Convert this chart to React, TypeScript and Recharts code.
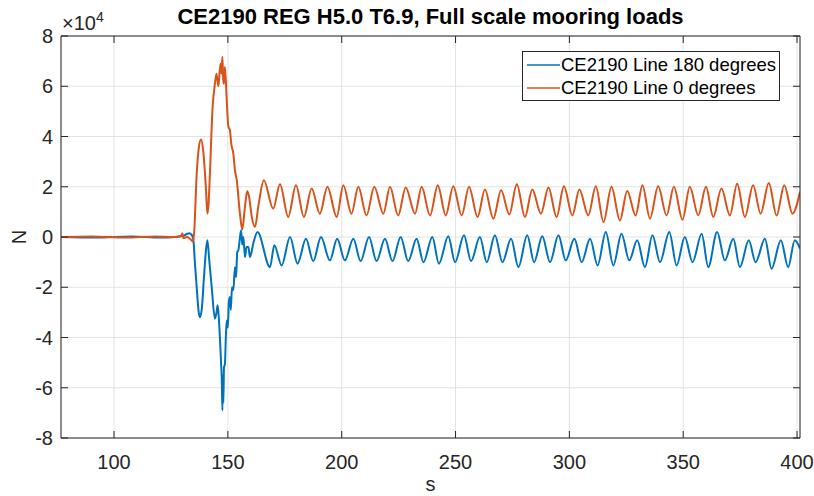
import React from 'react';
import { LineChart, Line, XAxis, YAxis, CartesianGrid, Legend, Label } from 'recharts';

const FONT = '"Liberation Sans", Arial, Helvetica, sans-serif';
const AXIS = '#262626';
const GRID = '#e3e3e3';

const titleText = 'CE2190 REG H5.0 T6.9, Full scale mooring loads';
const xLabel = 's';
const yLabel = 'N';
const seriesNames = ['CE2190 Line 180 degrees', 'CE2190 Line 0 degrees'];
const seriesColors = ['#0072BD', '#D95319'];
const xTicks = [100, 150, 200, 250, 300, 350, 400];
const yTicks = [-8, -6, -4, -2, 0, 2, 4, 6, 8];
const xDomain = [76.7, 401.3];
const yDomain = [-8, 8];

// Line 180 degrees (units of 1e4 N)
const line180Time = [
  76.7, 92, 108, 120, 127, 130.5, 132.0, 133.0, 134.0, 134.8, 135.5, 136.3, 137.2, 137.7, 138.5,
  139.5, 140.4, 141.0, 141.8, 142.9, 144.3, 145.0, 145.5, 146.0, 146.5, 147.0, 147.3, 147.6, 147.8,
  148.0, 148.3, 148.7, 149.1, 149.5, 150.0, 150.4, 150.9, 151.3, 151.8, 152.4, 153.1, 153.6, 154.1,
  154.6, 155.2, 155.8, 156.3, 156.8, 157.5, 158.2, 159.0, 159.7, 161.3, 163.0, 168.5, 170.4, 173.6,
  177.3, 180.6, 184.3, 187.5, 190.9, 194.8, 198.0, 201.4, 205.1, 208.3, 212.0, 215.3, 219.0, 222.3,
  225.9, 229.2, 232.9, 235.9, 239.8, 242.7, 246.8, 249.8, 253.7, 256.8, 260.7, 263.7, 267.3, 270.6,
  274.4, 277.6, 281.5, 284.5, 288.1, 291.5, 295.2, 298.4, 302.2, 305.4, 309.1, 312.4, 316.0, 319.3,
  322.9, 326.3, 329.8, 333.2, 336.5, 339.8, 343.9, 347.1, 350.7, 354.1, 358.1, 361.0, 364.9, 368.3,
  372.0, 374.9, 378.8, 381.8, 385.9, 388.8, 392.9, 396.1, 399.0, 401.3,
];
const line180Value = [
  0.0, -0.02, 0.02, -0.02, 0.0, 0.05, 0.12, 0.15, 0.1, -0.07, -1.0, -2.0, -3.0, -3.19, -2.9,
  -1.6, -0.5, -0.13, -0.9, -2.0, -3.25, -3.0, -2.72, -3.2, -4.0, -5.0, -5.6, -6.9, -5.5,
  -6.6, -5.2, -5.05, -4.0, -3.32, -3.6, -2.6, -2.39, -2.9, -2.0, -2.12, -1.2, -1.6, -0.6,
  -0.53, -0.1, 0.27, -0.3, 0.0, -0.8, -0.4, -0.4, -0.8, -0.2, 0.2, -1.2, -0.33, -1.13,
  0.0, -1.06, -0.07, -0.96, 0.0, -0.93, -0.07, -0.93, -0.07, -0.96, 0.0, -0.96, -0.07, -0.96,
  0.0, -0.96, -0.07, -1.0, 0.0, -1.06, 0.03, -1.0, 0.07, -0.96, 0.0, -1.0, 0.07, -1.0,
  -0.07, -1.2, 0.07, -1.0, 0.03, -1.0, 0.07, -0.93, -0.07, -1.0, -0.07, -1.13, 0.2, -1.13,
  0.13, -0.93, -0.13, -1.2, 0.07, -1.0, 0.2, -1.13, 0.0, -1.0, 0.13, -1.2, 0.2, -0.93,
  -0.07, -1.2, -0.13, -1.0, -0.07, -1.26, -0.13, -1.2, -0.13, -0.46,
];

// Line 0 degrees (units of 1e4 N)
const line0Time = [
  76.7, 90, 105, 118, 126, 129.5, 130.0, 130.5, 132.0, 133.5, 134.6, 135.2, 136.3, 137.3, 138.2,
  139.2, 140.4, 141.0, 141.5, 142.1, 143.3, 144.3, 145.0, 145.8, 146.4, 146.8, 147.2, 147.6, 148.0,
  148.3, 148.7, 149.5, 150.2, 150.9, 151.5, 152.4, 153.1, 153.9, 155.3, 156.3, 157.5, 158.5, 159.3,
  160.5, 161.9, 163.5, 165.8, 169.9, 172.9, 176.5, 179.9, 183.4, 186.8, 190.4, 193.7, 197.8, 200.7,
  204.3, 207.3, 210.9, 214.3, 218.3, 221.2, 224.8, 228.1, 232.2, 235.1, 238.8, 242.2, 245.7, 249.0,
  252.7, 255.9, 259.7, 262.9, 266.6, 270.0, 273.6, 276.9, 280.5, 283.7, 287.5, 290.8, 294.4, 297.6,
  301.3, 304.4, 308.3, 311.6, 315.0, 318.5, 322.2, 325.4, 329.1, 332.1, 335.4, 339.0, 342.7, 345.9,
  349.7, 352.9, 356.6, 360.0, 363.2, 366.8, 370.5, 373.7, 377.1, 380.7, 384.0, 387.6, 391.0, 394.4,
  398.0, 401.3,
];
const line0Value = [
  0.0, 0.02, -0.02, 0.02, 0.0, 0.05, 0.15, -0.05, 0.0, -0.08, -0.18, 0.2, 2.5, 3.6, 3.88,
  3.4, 1.86, 0.93, 1.3, 2.5, 5.18, 6.1, 6.5, 6.0, 6.6, 6.9, 6.5, 7.17, 6.2,
  6.1, 6.77, 5.44, 4.4, 4.25, 3.7, 3.32, 2.66, 2.26, 0.93, 0.3, 1.2, 1.83, 1.6,
  0.8, 0.4, 1.3, 2.26, 1.13, 2.1, 0.8, 2.06, 0.8, 1.93, 0.93, 2.0, 0.8, 2.06,
  0.93, 2.0, 0.86, 2.0, 0.93, 2.0, 0.86, 1.97, 0.93, 2.0, 0.86, 2.06, 0.86, 2.02,
  0.86, 2.0, 0.8, 1.89, 0.73, 1.86, 0.9, 2.1, 0.8, 1.89, 0.93, 1.97, 0.8, 2.02,
  0.86, 1.89, 0.86, 2.02, 0.6, 2.0, 0.66, 1.83, 0.86, 2.06, 0.73, 2.02, 0.86, 2.0,
  0.69, 2.0, 0.86, 2.0, 0.8, 1.93, 0.86, 2.12, 0.8, 2.06, 0.93, 2.15, 0.86, 2.06,
  0.93, 1.8,
];

const line180Data = line180Time.map((t, i) => ({ t, v: line180Value[i] }));
const line0Data = line0Time.map((t, i) => ({ t, v: line0Value[i] }));

const LegendBox = () => (
  <div
    style={{
      border: `1px solid ${AXIS}`,
      background: '#fff',
      padding: '1px 0',
      fontFamily: FONT,
      fontSize: 18.5,
      color: '#000',
      width: 258,
      boxSizing: 'border-box',
    }}
  >
    {seriesNames.map((n, i) => (
      <div key={n} style={{ display: 'flex', alignItems: 'center', height: 23 }}>
        <svg width={33} height={10} style={{ marginLeft: 4, marginRight: 1, flex: 'none' }}>
          <line x1={0} y1={5} x2={33} y2={5} stroke={seriesColors[i]} strokeWidth={1.5} />
        </svg>
        <span style={{ whiteSpace: 'nowrap', lineHeight: '23px' }}>{n}</span>
      </div>
    ))}
  </div>
);

const tickStyle = { fontSize: 20, fill: AXIS, fontFamily: FONT };
const blankTick = () => '';

export default function App() {
  return (
    <div style={{ position: 'absolute', left: 0, top: 0, width: 814, height: 496, background: '#fff', fontFamily: FONT }}>
      <LineChart
        width={814}
        height={496}
        margin={{ top: 35, right: 13, bottom: 0, left: 0 }}
        style={{ fontFamily: FONT }}
      >
        <CartesianGrid stroke={GRID} strokeWidth={1} />
        <XAxis
          dataKey="t"
          type="number"
          domain={xDomain}
          ticks={xTicks}
          allowDataOverflow
          height={58}
          stroke={AXIS}
          tickSize={-7}
          tickMargin={24}
          tick={tickStyle}
          interval={0}
        >
          <Label
            position="insideBottom"
            offset={5}
            value={xLabel}
            style={{ fontSize: 20, fill: AXIS, fontFamily: FONT }}
          />
        </XAxis>
        <XAxis
          xAxisId="top"
          orientation="top"
          dataKey="t"
          type="number"
          domain={xDomain}
          ticks={xTicks}
          allowDataOverflow
          height={1}
          stroke={AXIS}
          tickSize={-7}
          tickFormatter={blankTick}
          tick={tickStyle}
          interval={0}
        />
        <YAxis
          type="number"
          domain={yDomain}
          ticks={yTicks}
          allowDataOverflow
          width={61}
          stroke={AXIS}
          tickSize={-7}
          tickMargin={15}
          tick={tickStyle}
          interval={0}
        >
          <Label
            content={(props: any) => {
              const vb = props.viewBox || { x: 0, y: 36, height: 402 };
              const cx = vb.x + 26;
              const cy = vb.y + vb.height / 2;
              return (
                <text
                  x={cx}
                  y={cy}
                  transform={`rotate(-90 ${cx} ${cy})`}
                  textAnchor="middle"
                  fontSize={20}
                  fill={AXIS}
                  fontFamily={FONT}
                >
                  {yLabel}
                </text>
              );
            }}
          />
        </YAxis>
        <YAxis
          yAxisId="right"
          orientation="right"
          type="number"
          domain={yDomain}
          ticks={yTicks}
          allowDataOverflow
          width={1}
          stroke={AXIS}
          tickSize={-7}
          tickFormatter={blankTick}
          tick={tickStyle}
          interval={0}
        />
        <Line
          data={line180Data}
          dataKey="v"
          name={seriesNames[0]}
          type="monotone"
          stroke={seriesColors[0]}
          strokeWidth={2}
          dot={false}
          activeDot={false}
          isAnimationActive={false}
        />
        <Line
          data={line0Data}
          dataKey="v"
          name={seriesNames[1]}
          type="monotone"
          stroke={seriesColors[1]}
          strokeWidth={2}
          dot={false}
          activeDot={false}
          isAnimationActive={false}
        />
        <Legend
          layout="horizontal"
          verticalAlign="middle"
          align="center"
          content={LegendBox}
          wrapperStyle={{ left: 522, top: 51, width: 'auto', height: 'auto' }}
        />
      </LineChart>
      <div
        style={{
          position: 'absolute',
          left: 61,
          width: 739,
          top: 6,
          textAlign: 'center',
          fontSize: 22,
          lineHeight: '22px',
          fontWeight: 'bold',
          color: '#000',
          fontFamily: FONT,
          whiteSpace: 'nowrap',
        }}
      >
        {titleText}
      </div>
      <div
        style={{
          position: 'absolute',
          left: 62,
          top: 13,
          fontSize: 20,
          lineHeight: '20px',
          color: AXIS,
          fontFamily: FONT,
          whiteSpace: 'nowrap',
        }}
      >
        ×10<span style={{ fontSize: 14, position: 'relative', top: -8 }}>4</span>
      </div>
    </div>
  );
}
